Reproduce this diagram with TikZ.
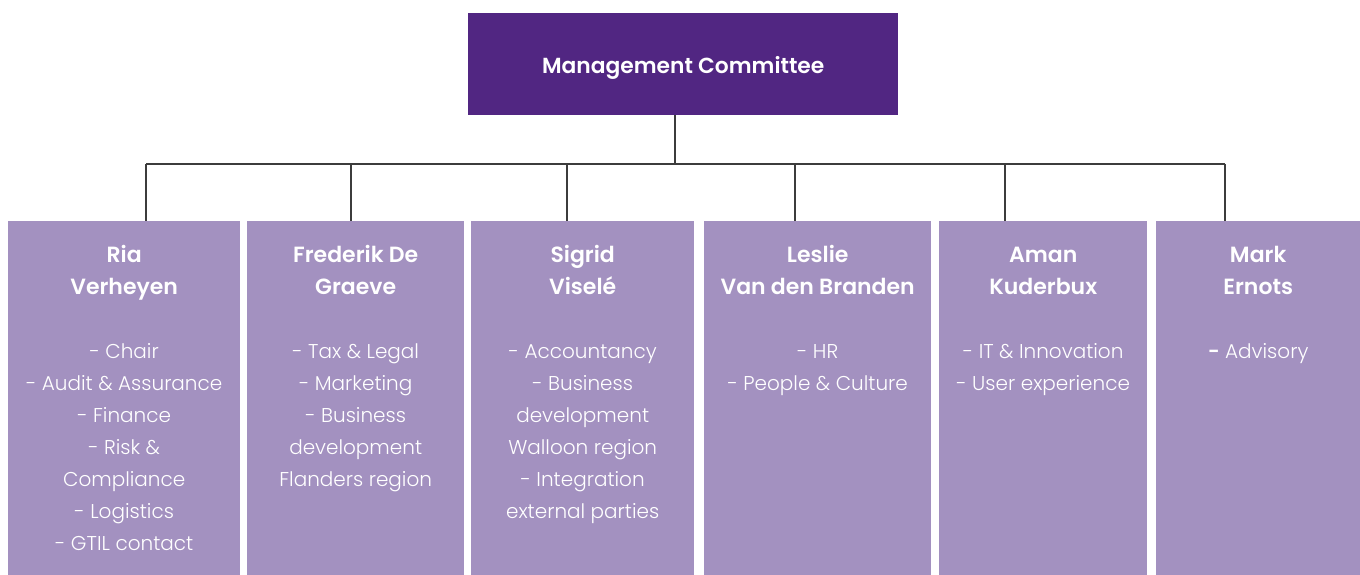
\documentclass[tikz,border=0pt]{standalone}
\usepackage{fontspec}
\setmainfont{Poppins}[UprightFont=* Light,BoldFont=* SemiBold]
\definecolor{mcpurple}{HTML}{512682}
\definecolor{boxlilac}{HTML}{A391C0}
\definecolor{linegrey}{HTML}{3C3C3C}
\newcommand\pname[1]{{\fontsize{22}{32}\selectfont\bfseries #1}}
\begin{document}
\begin{tikzpicture}[x=1pt,y=-1pt,
    member/.style={fill=boxlilac,draw=none,anchor=north west,inner sep=0pt,minimum height=354pt},
    duties/.style={anchor=north,align=center,text=white,inner sep=0pt,font=\fontsize{20}{32}\selectfont},
    link/.style={draw=linegrey,line width=1.2pt}]
            \useasboundingbox (0,0) rectangle (1360,575);
            \node[fill=mcpurple,anchor=north west,inner sep=0pt,minimum width=430pt,minimum height=102pt] (mc) at (468,13) {};
            \node[text=white,font=\fontsize{21.8}{32}\selectfont\bfseries] (mct) at ([yshift=-4pt]mc.center) {Management Committee};
            \node[member,minimum width=232pt] (ria) at (8,221) {};
            \node[member,minimum width=217pt] (frederik) at (247,221) {};
            \node[member,minimum width=223pt] (sigrid) at (471,221) {};
            \node[member,minimum width=227pt] (leslie) at (704,221) {};
            \node[member,minimum width=208pt] (aman) at (939,221) {};
            \node[member,minimum width=204pt] (mark) at (1156,221) {};
            \node[duties] (riat) at ([yshift=-18.6pt]ria.north) {\strut\pname{Ria}\\\pname{Verheyen}\\[32pt]
                - Chair\\- Audit \& Assurance\\- Finance\\- Risk \&\\Compliance\\- Logistics\\- GTIL contact};
            \node[duties] (frederikt) at ([yshift=-18.6pt]frederik.north) {\strut\pname{Frederik De}\\\pname{Graeve}\\[32pt]
                - Tax \& Legal\\- Marketing\\- Business\\development\\Flanders region};
            \node[duties] (sigridt) at ([yshift=-18.6pt]sigrid.north) {\strut\pname{Sigrid}\\\pname{Viselé}\\[32pt]
                - Accountancy\\- Business\\development\\Walloon region\\- Integration\\external parties};
            \node[duties] (lesliet) at ([yshift=-18.6pt]leslie.north) {\strut\pname{Leslie}\\\pname{Van den Branden}\\[32pt]
                - HR\\- People \& Culture};
            \node[duties] (amant) at ([yshift=-18.6pt]aman.north) {\strut\pname{Aman}\\\pname{Kuderbux}\\[32pt]
                - IT \& Innovation\\- User experience};
            \node[duties] (markt) at ([yshift=-18.6pt]mark.north) {\strut\pname{Mark}\\\pname{Ernots}\\[32pt]
                \textbf{-} Advisory};
            % tap points on the bus
            \coordinate (hub) at (675,164);
            \coordinate (t1) at (146,164);
            \coordinate (t2) at (351,164);
            \coordinate (t3) at (567,164);
            \coordinate (t4) at (795,164);
            \coordinate (t5) at (1005,164);
            \coordinate (t6) at (1225,164);
            \draw[link] (mc.south -| hub) -- (hub);
            \draw[link] (t1) -- (t6);
            \draw[link] (t1) -- (t1 |- ria.north);
            \draw[link] (t2) -- (t2 |- frederik.north);
            \draw[link] (t3) -- (t3 |- sigrid.north);
            \draw[link] (t4) -- (t4 |- leslie.north);
            \draw[link] (t5) -- (t5 |- aman.north);
            \draw[link] (t6) -- (t6 |- mark.north);
        \end{tikzpicture}
\end{document}
